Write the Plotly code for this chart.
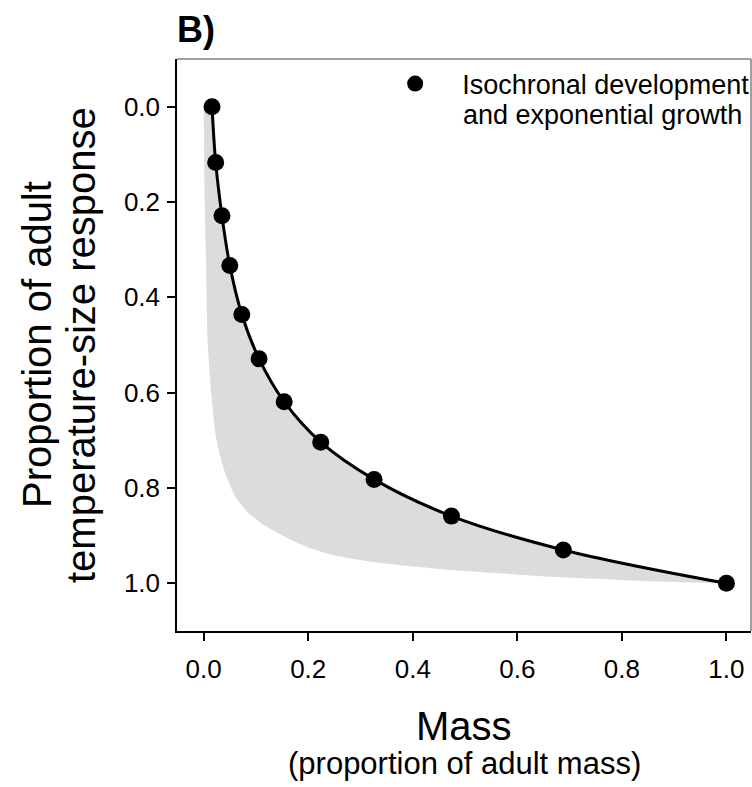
import plotly.graph_objects as go

# Data
mass_pts = [0.016, 0.023, 0.035, 0.050, 0.073, 0.106, 0.154, 0.224, 0.326, 0.474, 0.688, 1.0]
response_pts = [0.0, 0.117, 0.229, 0.333, 0.436, 0.529, 0.619, 0.704, 0.782, 0.859, 0.930, 1.0]

lower_mass = [0.0, 0.001, 0.002, 0.004, 0.005, 0.008, 0.015, 0.024, 0.040, 0.059, 0.085,
              0.123, 0.16, 0.2, 0.248, 0.343, 0.452, 0.55, 0.644, 0.74, 0.835, 1.0]
lower_resp = [0.0, 0.1, 0.2, 0.3, 0.363, 0.502, 0.605, 0.695, 0.765, 0.815, 0.852,
              0.883, 0.905, 0.925, 0.941, 0.958, 0.970, 0.978, 0.985, 0.99, 0.995, 1.0]

tick_vals = [0.0, 0.2, 0.4, 0.6, 0.8, 1.0]
legend_line1 = "Isochronal development"
legend_line2 = "and exponential growth"

FONT = "Arial, 'Liberation Sans', sans-serif"

fig = go.Figure()
fig.add_trace(go.Scatter(x=lower_mass, y=lower_resp, mode="lines",
                         line=dict(width=0, color="rgba(0,0,0,0)", shape="spline", smoothing=0.6),
                         showlegend=False, hoverinfo="skip"))
fig.add_trace(go.Scatter(x=mass_pts, y=response_pts, mode="lines",
                         line=dict(color="black", width=3, shape="spline", smoothing=1),
                         fill="tonexty", fillcolor="#dcdcdc",
                         showlegend=False))
fig.add_trace(go.Scatter(x=mass_pts, y=response_pts, mode="markers",
                         marker=dict(color="black", size=17),
                         name=legend_line1, showlegend=True))

axis_common = dict(
    showgrid=False, zeroline=False,
    showline=True, linecolor="black", linewidth=1.5,
    ticks="outside", ticklen=8, tickwidth=1.5, tickcolor="black",
    tickvals=tick_vals, tickformat=".1f",
    tickfont=dict(family=FONT, size=26, color="black"),
)

fig.update_xaxes(range=[-0.051, 1.047], ticklabelstandoff=6, **axis_common)
fig.update_yaxes(range=[1.1, -0.1], ticklabelstandoff=2, **axis_common)

fig.add_shape(type="line", xref="paper", yref="paper", x0=0, x1=1, y0=1, y1=1,
              line=dict(color="#7f7f7f", width=1.5))
fig.add_shape(type="line", xref="paper", yref="paper", x0=1, x1=1, y0=0, y1=1,
              line=dict(color="#7f7f7f", width=1.5))

annotations = [
    dict(text="<b>B)</b>", xref="paper", yref="paper", x=0, y=1, xanchor="left",
         yanchor="middle", yshift=30, xshift=-2, showarrow=False,
         font=dict(family=FONT, size=36, color="black")),
    dict(text="Proportion of adult", xref="paper", yref="paper", x=0, y=0.5,
         xanchor="center", yanchor="middle", xshift=-140, textangle=-90, showarrow=False,
         font=dict(family=FONT, size=40, color="black")),
    dict(text="temperature-size response", xref="paper", yref="paper", x=0, y=0.5,
         xanchor="center", yanchor="middle", xshift=-96, textangle=-90, showarrow=False,
         font=dict(family=FONT, size=40, color="black")),
    dict(text="Mass", xref="paper", yref="paper", x=0.5, y=0,
         xanchor="center", yanchor="middle", yshift=-95, showarrow=False,
         font=dict(family=FONT, size=40, color="black")),
    dict(text="(proportion of adult mass)", xref="paper", yref="paper", x=0.5, y=0,
         xanchor="center", yanchor="middle", yshift=-132, showarrow=False,
         font=dict(family=FONT, size=31, color="black")),
    dict(text=legend_line2, xref="paper", yref="paper", x=0.4977, y=0.9028,
         xanchor="left", yanchor="middle", xshift=-2, showarrow=False,
         font=dict(family=FONT, size=27, color="black")),
]

fig.update_layout(
    width=752, height=787,
    margin=dict(l=177, r=1, t=59, b=156, autoexpand=False),
    plot_bgcolor="white", paper_bgcolor="white",
    font=dict(family=FONT, color="black"),
    annotations=annotations,
    legend=dict(x=0.333, y=0.999, xanchor="left", yanchor="top",
                bgcolor="rgba(0,0,0,0)", valign="top",
                font=dict(family=FONT, size=27, color="black"),
                itemwidth=84),
    showlegend=True,
)

fig.write_html("out.html")
